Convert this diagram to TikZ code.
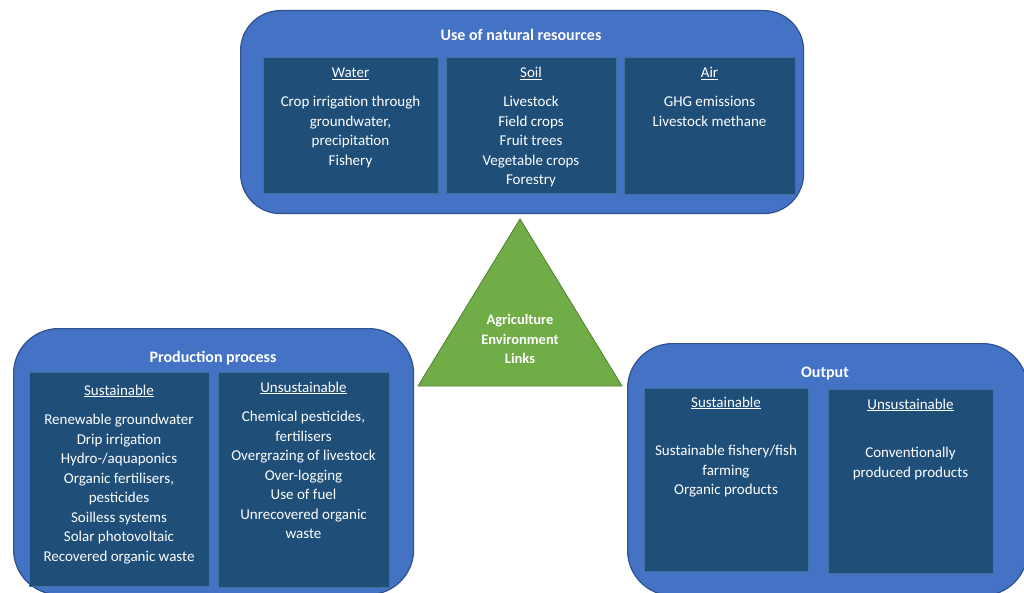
\documentclass[tikz,border=0pt]{standalone}
\usepackage{fontspec}
\setmainfont{Carlito}
\definecolor{outerblue}{HTML}{4472C4}
\definecolor{outerline}{HTML}{2F528F}
\definecolor{innerblue}{HTML}{1F4E79}
\definecolor{innerline}{HTML}{41719C}
\definecolor{leafgreen}{HTML}{70AD47}
\definecolor{leafline}{HTML}{507E32}
\begin{document}
\begin{tikzpicture}[x=1pt,y=-1pt,
  outerbox/.style={draw=outerline,line width=1.2pt,fill=outerblue,rounded corners=40pt,anchor=north west,inner sep=0pt},
  innerbox/.style={draw=innerline,line width=0.6pt,fill=innerblue,anchor=north west,inner sep=0pt},
  title/.style={anchor=base,text=white,font=\fontsize{16}{18}\selectfont\bfseries},
  heading/.style={anchor=base,text=white,font=\fontsize{15}{18}\selectfont},
  items/.style={anchor=north,inner sep=0pt,align=center,text=white,font=\fontsize{15}{19.5}\selectfont}]
\fill[white] (0,0) rectangle (1024,593);
\useasboundingbox (0,0) rectangle (1024,593);

% use of natural resources
\node[outerbox,minimum width=563pt,minimum height=203pt] (resources) at (240,10) {};
\node[title] (restitle) at (521,41) {Use of natural resources};
\node[innerbox,minimum width=175pt,minimum height=136pt] (water) at (263,57) {};
\node[innerbox,minimum width=170pt,minimum height=136pt] (soil) at (446,57) {};
\node[innerbox,minimum width=171pt,minimum height=137pt] (air) at (624,57) {};
\node[heading] (waterhead) at (350.5,78) {\underline{Water}};
\node[heading] (soilhead) at (531,78) {\underline{Soil}};
\node[heading] (airhead) at (709.5,78) {\underline{Air}};
\node[items] (wateritems) at (350.5,93) {\strut Crop irrigation through\\groundwater,\\precipitation\\Fishery};
\node[items] (soilitems) at (531,93) {\strut Livestock\\Field crops\\Fruit trees\\Vegetable crops\\Forestry};
\node[items] (airitems) at (709.5,93) {\strut GHG emissions\\Livestock methane};

% triangle
\coordinate (apex) at (520,219);
\coordinate (baseright) at (622,386);
\coordinate (baseleft) at (418,386);
\draw[fill=leafgreen,draw=leafline,line width=0.8pt] (apex) -- (baseright) -- (baseleft) -- cycle;
\node[items,font=\fontsize{14.5}{19.5}\selectfont\bfseries] (links) at (520,311) {\strut Agriculture\\Environment\\Links};

% production process
\node[outerbox,rounded corners=45pt,minimum width=400pt,minimum height=266pt] (production) at (13,328) {};
\node[title] (prodtitle) at (213,362) {Production process};
\node[innerbox,minimum width=180pt,minimum height=214pt] (prodsust) at (29,372) {};
\node[innerbox,minimum width=171pt,minimum height=215pt] (produnsust) at (218,372) {};
\node[heading] (prodsusthead) at (119,395) {\underline{Sustainable}};
\node[heading] (produnsusthead) at (303.5,392) {\underline{Unsustainable}};
\node[items] (prodsustitems) at (119,411) {\strut Renewable groundwater\\Drip irrigation\\Hydro-/aquaponics\\Organic fertilisers,\\pesticides\\Soilless systems\\Solar photovoltaic\\Recovered organic waste};
\node[items] (produnsustitems) at (303.5,408) {\strut Chemical pesticides,\\fertilisers\\Overgrazing of livestock\\Over-logging\\Use of fuel\\Unrecovered organic\\waste};

% output
\node[outerbox,rounded corners=45pt,minimum width=400pt,minimum height=252pt] (output) at (627,343) {};
\node[title] (outtitle) at (825,377) {Output};
\node[innerbox,minimum width=164pt,minimum height=183pt] (outsust) at (644,388) {};
\node[innerbox,minimum width=165pt,minimum height=184pt] (outunsust) at (828,389) {};
\node[heading] (outsusthead) at (726,407) {\underline{Sustainable}};
\node[heading] (outunsusthead) at (910.5,409) {\underline{Unsustainable}};
\node[items] (outsustitems) at (726,442) {\strut Sustainable fishery/fish\\farming\\Organic products};
\node[items] (outunsustitems) at (910.5,444) {\strut Conventionally\\produced products};

\end{tikzpicture}
\end{document}
